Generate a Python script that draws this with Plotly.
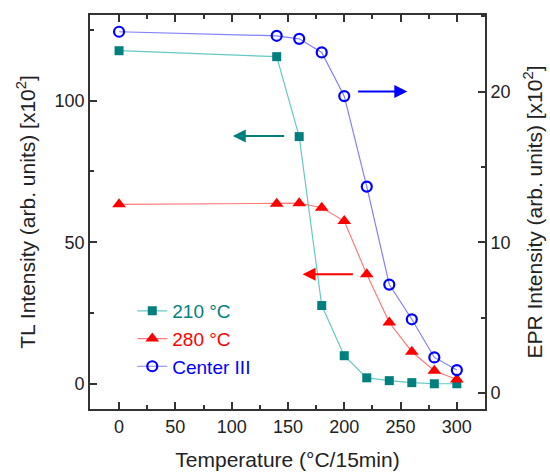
import plotly.graph_objects as go

temps = [0, 140, 160, 180, 200, 220, 240, 260, 280, 300]
tl_210 = [117.6, 115.5, 87.3, 27.7, 10.0, 2.2, 1.2, 0.5, 0.1, 0.1]
tl_280 = [63.4, 63.6, 63.8, 62.2, 57.5, 38.7, 21.7, 11.4, 4.7, 1.6]
epr_c3 = [23.97, 23.7, 23.5, 22.6, 19.7, 13.7, 7.2, 4.9, 2.37, 1.53]

names = ["210 °C", "280 °C", "Center III"]
teal, red, blue = "#007f7f", "#ff0000", "#0000ff"

fig = go.Figure()
fig.add_trace(go.Scatter(
    x=temps, y=tl_210, mode="lines+markers",
    name=f"<span style='color:{teal}'>{names[0]}</span>",
    line=dict(color="#66c9c4", width=1.2),
    marker=dict(symbol="square", size=9, color=teal)))
fig.add_trace(go.Scatter(
    x=temps, y=tl_280, mode="lines+markers",
    name=f"<span style='color:{red}'>{names[1]}</span>",
    line=dict(color="#ff7a7a", width=1.2),
    marker=dict(symbol="triangle-up", size=12, color=red)))
fig.add_trace(go.Scatter(
    x=temps, y=epr_c3, mode="lines+markers", yaxis="y2",
    name=f"<span style='color:{blue}'>{names[2]}</span>",
    line=dict(color="#8080ff", width=1.2),
    marker=dict(symbol="circle-open", size=10, color=blue, line=dict(width=2.2))))

# arrows: head at (x, y), tail at (ax, ay)
arrows = [
    dict(x=101, y=87.5, ax=148, ay=87.5, yref="y", color=teal),
    dict(x=256, y=20.0, ax=211, ay=20.0, yref="y2", color=blue),
    dict(x=163, y=38.7, ax=209, ay=38.7, yref="y", color=red),
]
for a in arrows:
    fig.add_annotation(x=a["x"], y=a["y"], ax=a["ax"], ay=a["ay"], xref="x", yref=a["yref"],
                       axref="x", ayref=a["yref"], text="", showarrow=True,
                       arrowhead=2, arrowsize=1.3, arrowwidth=2, arrowcolor=a["color"])

fam = "Liberation Sans, Arial, sans-serif"
axis_font = dict(family=fam, size=18, color="#222")
title_font = dict(family=fam, size=21, color="#222")

fig.update_layout(
    width=550, height=475,
    margin=dict(l=90, r=65, t=15, b=66, autoexpand=False),
    plot_bgcolor="white", paper_bgcolor="white",
    showlegend=True,
    legend=dict(x=0.107, y=0.297, xanchor="left", yanchor="top",
                bgcolor="rgba(0,0,0,0)", font=dict(family=fam, size=19),
                tracegroupgap=0, itemsizing="trace"),
    xaxis=dict(range=[-25.8, 325], dtick=50, tick0=0, ticks="inside", ticklen=7, tickwidth=1.5,
               tickcolor="#333", showline=True, linecolor="#333", linewidth=1.8, mirror="ticks",
               showgrid=False, zeroline=False, tickfont=axis_font, automargin=False,
               minor=dict(dtick=25, tick0=0, ticks="inside", ticklen=4, tickcolor="#333", showgrid=False),
               title=dict(text="Temperature (°C/15min)", font=title_font, standoff=17)),
    yaxis=dict(range=[-8.8, 130.2], dtick=50, tick0=0, ticks="inside", ticklen=7, tickwidth=1.5,
               tickcolor="#333", showline=True, linecolor="#333", linewidth=1.8,
               showgrid=False, zeroline=False, tickfont=axis_font, automargin=False,
               minor=dict(dtick=25, tick0=0, ticks="inside", ticklen=4, tickcolor="#333", showgrid=False),
               title=dict(text="TL Intensity (arb. units) [x10<sup>2</sup>]", font=title_font, standoff=13)),
    yaxis2=dict(range=[-1.05, 25.08], dtick=10, tick0=0, overlaying="y", side="right",
                ticks="inside", ticklen=7, tickwidth=1.5, tickcolor="#333", showline=True,
                linecolor="#333", linewidth=1.8, showgrid=False, zeroline=False, tickfont=axis_font,
                automargin=False,
                minor=dict(dtick=5, tick0=0, ticks="inside", ticklen=4, tickcolor="#333", showgrid=False),
                title=dict(text="EPR Intensity (arb. units) [x10<sup>2</sup>]", font=title_font, standoff=18)),
)

fig.write_html("out.html")
